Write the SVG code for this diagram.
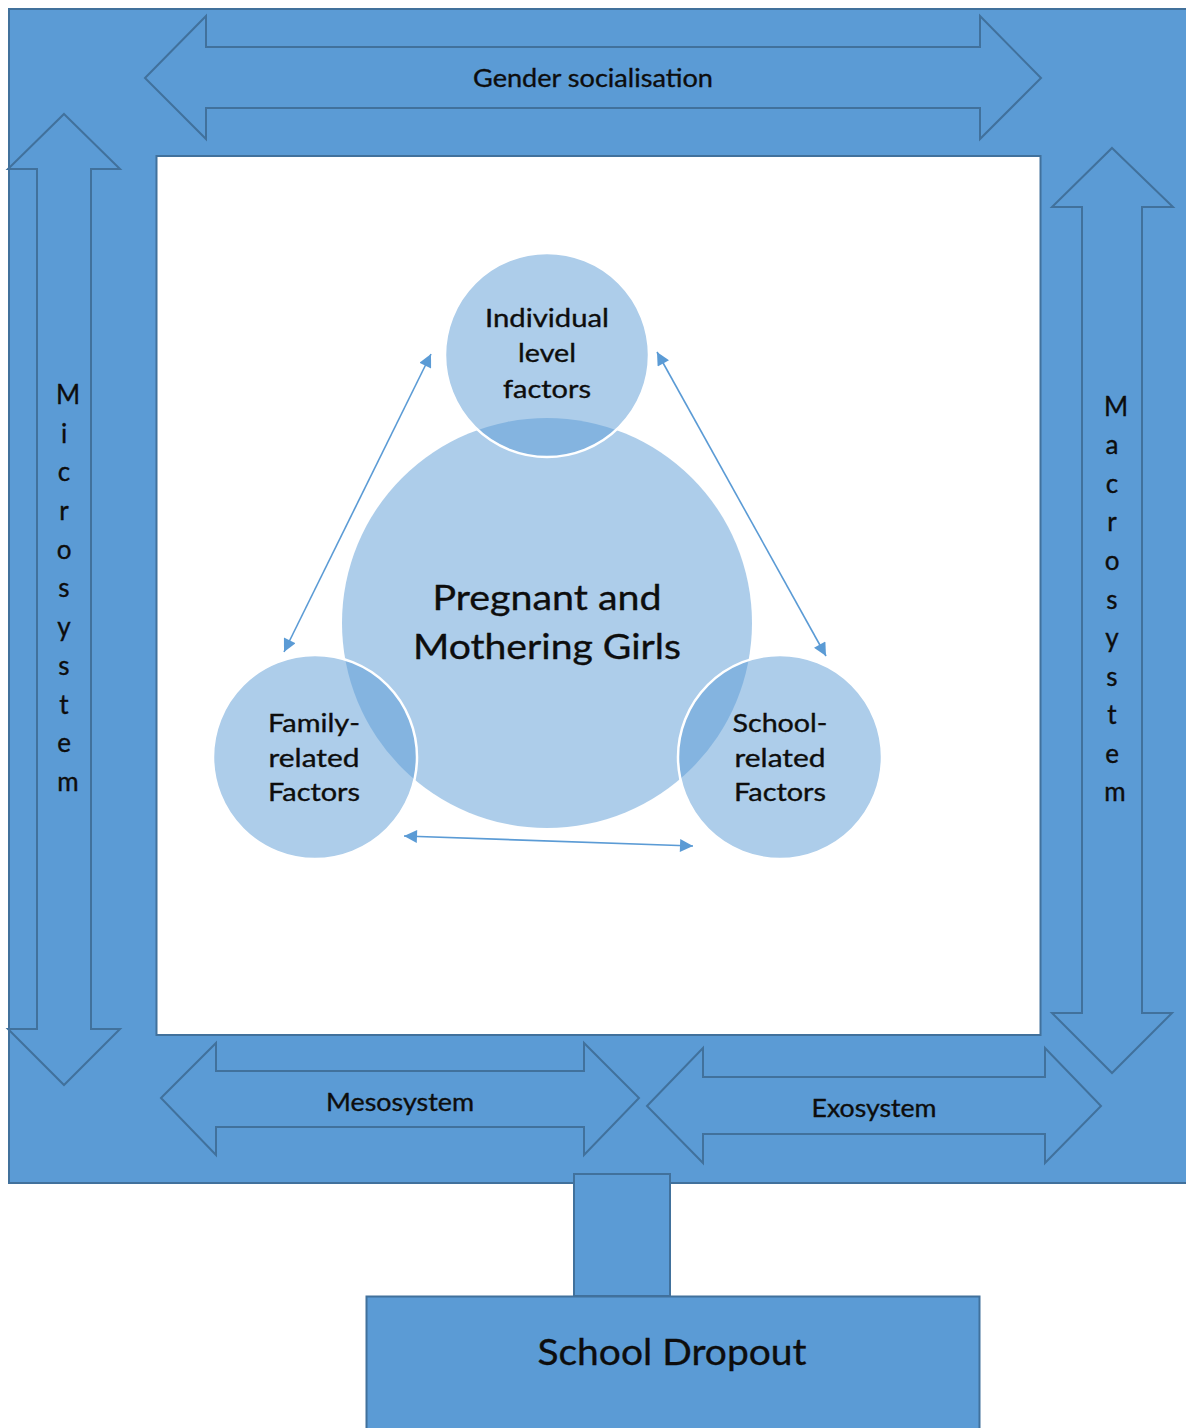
<svg xmlns="http://www.w3.org/2000/svg" width="1186" height="1428" viewBox="0 0 1186 1428">
<style>
.frame{fill:#5b9bd5;stroke:#41719c;stroke-width:2}
.blk{fill:#5b9bd5;stroke:#41719c;stroke-width:2;stroke-linejoin:miter}
.circ{fill:#5b9bd5;fill-opacity:0.5;stroke:#ffffff;stroke-width:2.5}
.big{fill:#5b9bd5;fill-opacity:0.5;stroke:none}
.t{font-family:Lato,"Open Sans","Liberation Sans",sans-serif;fill:#0d0d0d;stroke:#0d0d0d;stroke-width:0.35;text-anchor:middle}
.conn{stroke:#5b9bd5;stroke-width:1.6;fill:none}
</style>
<defs>
<marker id="ah" viewBox="0 0 10 10" refX="10" refY="5" markerUnits="userSpaceOnUse" markerWidth="16" markerHeight="13" orient="auto-start-reverse">
<path d="M0,0 L10,5 L0,10 z" fill="#5b9bd5"/>
</marker>
</defs>
<rect id="background" x="0" y="0" width="1186" height="1428" fill="#ffffff"/>
<g id="outer-frame">
<rect class="frame" x="9" y="9" width="1190" height="1174"/>
<rect x="156.5" y="156" width="884" height="879" fill="#ffffff" stroke="#41719c" stroke-width="2"/>
</g>
<g id="gender-socialisation">
<polygon class="blk" points="145,78 206,16 206,47 980,47 980,16 1041,78 980,139 980,108 206,108 206,139"/>
<text class="t" x="593" y="87" font-size="25" textLength="240" lengthAdjust="spacingAndGlyphs">Gender socialisation</text>
</g>
<g id="microsystem">
<polygon class="blk" points="64,114 120,169 91,169 91,1029 120,1029 64,1085 8,1029 37,1029 37,169 8,169"/>
<g class="t" font-size="26">
<text x="68" y="404">M</text>
<text x="64" y="443">i</text>
<text x="64" y="481">c</text>
<text x="64" y="520">r</text>
<text x="64" y="559">o</text>
<text x="64" y="597">s</text>
<text x="64" y="636">y</text>
<text x="64" y="675">s</text>
<text x="64" y="714">t</text>
<text x="64" y="752">e</text>
<text x="68" y="791">m</text>
</g>
</g>
<g id="macrosystem">
<polygon class="blk" points="1112,148 1173,207 1142,207 1142,1013 1172,1013 1112,1073 1052,1013 1082,1013 1082,207 1052,207"/>
<g class="t" font-size="26">
<text x="1116" y="416">M</text>
<text x="1112" y="454">a</text>
<text x="1112" y="493">c</text>
<text x="1112" y="531">r</text>
<text x="1112" y="570">o</text>
<text x="1112" y="609">s</text>
<text x="1112" y="647">y</text>
<text x="1112" y="686">s</text>
<text x="1112" y="724">t</text>
<text x="1112" y="763">e</text>
<text x="1115" y="801">m</text>
</g>
</g>
<g id="mesosystem">
<polygon class="blk" points="161,1098 216,1043 216,1071 584,1071 584,1043 639,1098 584,1155 584,1127 216,1127 216,1155"/>
<text class="t" x="400" y="1111" font-size="25" textLength="148" lengthAdjust="spacingAndGlyphs">Mesosystem</text>
</g>
<g id="exosystem">
<polygon class="blk" points="647,1106 703,1048 703,1077 1045,1077 1045,1048 1101,1106 1045,1163 1045,1134 703,1134 703,1163"/>
<text class="t" x="874" y="1117" font-size="25" textLength="125" lengthAdjust="spacingAndGlyphs">Exosystem</text>
</g>
<g id="link-box">
<rect class="blk" x="574" y="1174" width="96" height="122"/>
</g>
<g id="school-dropout">
<rect class="blk" x="366.5" y="1296.5" width="613" height="140"/>
<text class="t" x="672" y="1365" font-size="37" textLength="269" lengthAdjust="spacingAndGlyphs">School Dropout</text>
</g>
<g id="pregnant-mothering-girls">
<circle class="big" cx="547" cy="623" r="205"/>
</g>
<g id="individual-level-factors">
<circle class="circ" cx="547" cy="355" r="102"/>
</g>
<g id="family-related-factors">
<circle class="circ" cx="315" cy="757" r="102"/>
</g>
<g id="school-related-factors">
<circle class="circ" cx="780" cy="757" r="102"/>
</g>
<g id="labels">
<text class="t" x="547" y="610" font-size="34" textLength="229" lengthAdjust="spacingAndGlyphs">Pregnant and</text>
<text class="t" x="547" y="659" font-size="34" textLength="268" lengthAdjust="spacingAndGlyphs">Mothering Girls</text>
<text class="t" x="547" y="327" font-size="25" textLength="124" lengthAdjust="spacingAndGlyphs">Individual</text>
<text class="t" x="547" y="362" font-size="25" textLength="58" lengthAdjust="spacingAndGlyphs">level</text>
<text class="t" x="547" y="398" font-size="25" textLength="88" lengthAdjust="spacingAndGlyphs">factors</text>
<text class="t" x="314" y="732" font-size="25" textLength="92" lengthAdjust="spacingAndGlyphs">Family-</text>
<text class="t" x="314" y="767" font-size="25" textLength="91" lengthAdjust="spacingAndGlyphs">related</text>
<text class="t" x="314" y="801" font-size="25" textLength="92" lengthAdjust="spacingAndGlyphs">Factors</text>
<text class="t" x="780" y="732" font-size="25" textLength="95" lengthAdjust="spacingAndGlyphs">School-</text>
<text class="t" x="780" y="767" font-size="25" textLength="91" lengthAdjust="spacingAndGlyphs">related</text>
<text class="t" x="780" y="801" font-size="25" textLength="92" lengthAdjust="spacingAndGlyphs">Factors</text>
</g>
<g id="connectors">
<line class="conn" x1="431" y1="354" x2="284" y2="652" marker-start="url(#ah)" marker-end="url(#ah)"/>
<line class="conn" x1="657" y1="352" x2="826" y2="656" marker-start="url(#ah)" marker-end="url(#ah)"/>
<line class="conn" x1="404" y1="836" x2="693" y2="846" marker-start="url(#ah)" marker-end="url(#ah)"/>
</g>
</svg>
